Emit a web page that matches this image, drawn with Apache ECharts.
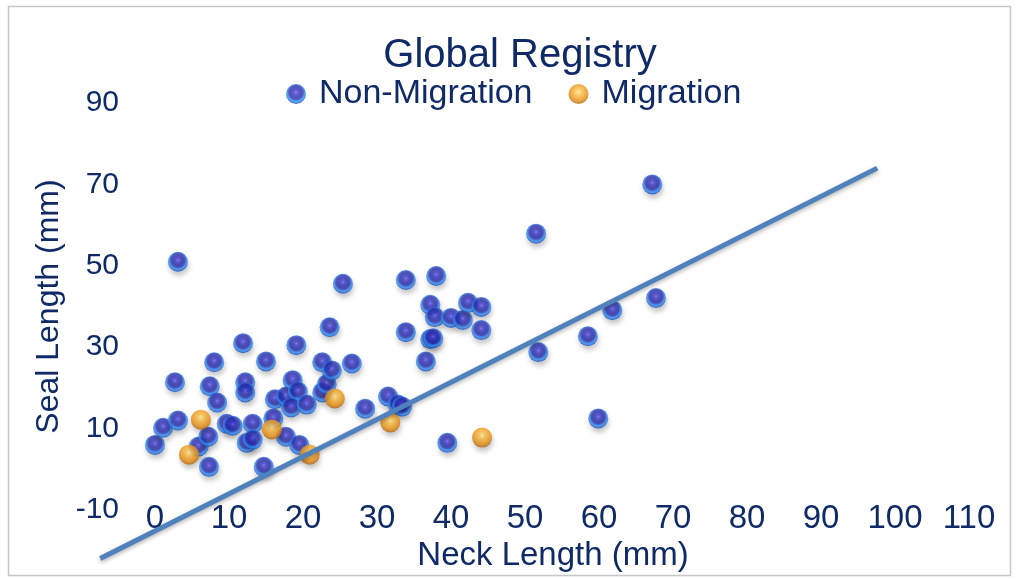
<!DOCTYPE html>
<html>
<head>
<meta charset="utf-8">
<title>Global Registry</title>
<script src="https://cdn.jsdelivr.net/npm/echarts@6/dist/echarts.min.js"></script>
<style>
  html, body { margin: 0; padding: 0; background: #ffffff; }
  #chart { width: 1018px; height: 579px; }
</style>
</head>
<body>
<div id="chart"></div>
<script>
// Neck vs seal length (mm) for each registry entry
const nonMigrationNeck = [
  0.0, 1.1, 3.1, 2.7, 3.1, 5.9, 7.2, 7.4, 8.0, 8.4, 7.3, 9.7, 10.5, 11.9, 12.2, 12.2,
  12.4, 13.2, 13.2, 15.0, 14.7, 16.2, 16.0, 17.7, 17.7, 19.1, 18.6, 19.3, 18.4, 19.5,
  20.5, 22.6, 22.6, 23.2, 23.6, 23.9, 25.4, 26.6, 28.4, 31.5, 32.8, 33.4, 33.9, 33.9,
  36.6, 37.2, 37.8, 37.2, 37.6, 38.0, 39.5, 40.0, 41.6, 42.3, 44.1, 44.1, 51.5, 51.8,
  58.5, 59.9, 61.8, 67.2, 67.7
];
const nonMigrationSeal = [
  6.0, 10.2, 51.0, 21.4, 12.0, 5.6, 8.0, 20.4, 26.3, 16.4, 0.6, 11.2, 10.7, 31.0, 21.4, 18.9,
  6.5, 11.2, 7.3, 26.5, 0.6, 17.2, 12.5, 17.9, 8.0, 30.5, 21.9, 19.1, 15.2, 6.0,
  15.9, 26.3, 18.9, 20.9, 34.9, 24.3, 45.6, 26.0, 14.9, 17.9, 15.9, 15.4, 46.5, 33.7,
  26.5, 40.4, 37.4, 32.0, 32.2, 47.5, 6.5, 37.2, 36.7, 40.9, 39.9, 34.2, 57.9, 28.8,
  32.7, 12.5, 39.1, 70.0, 42.1
];
const migrationNeck = [6.2, 4.6, 15.8, 20.9, 24.3, 31.8, 44.2];
const migrationSeal = [12.2, 3.6, 9.8, 3.6, 17.4, 11.5, 7.8];

// Linear trendline end points (forecast both directions)
const trendNeck = [-7.4, 97.6];
const trendSeal = [-21.9, 74.0];

// The x range starts one step early so the backward forecast stays on the scale;
// only the labels from 0 upward are shown.
const xTicks = { min: -10, max: 110, step: 10, firstLabel: 0 };
const yTicks = { min: -10, max: 90, step: 10, labelEvery: 20 };

const pairs = (xs, ys) => xs.map((x, i) => [x, ys[i]]);

const navy = '#0f2a66';
const sansFont = "'Liberation Sans', Arial, sans-serif";

const blueSphere = {
  type: 'radial', x: 0.5, y: 0.42, r: 0.55,
  colorStops: [
    { offset: 0, color: '#6a66f4' },
    { offset: 0.18, color: '#3c3cd0' },
    { offset: 0.45, color: '#2628a8' },
    { offset: 0.63, color: '#2630b0' },
    { offset: 0.75, color: '#2a74e4' },
    { offset: 0.87, color: '#368aF2' },
    { offset: 1, color: '#1a58c4' }
  ]
};
const orangeSphere = {
  type: 'radial', x: 0.5, y: 0.4, r: 0.58,
  colorStops: [
    { offset: 0, color: '#ffe9a0' },
    { offset: 0.25, color: '#fcc24a' },
    { offset: 0.55, color: '#f3a224' },
    { offset: 0.8, color: '#e08a14' },
    { offset: 1, color: '#b4650a' }
  ]
};

const chart = echarts.init(document.getElementById('chart'), null, { renderer: 'canvas' });

chart.setOption({
  animation: false,
  backgroundColor: '#ffffff',
  graphic: [{
    type: 'rect',
    shape: { x: 8.5, y: 6.5, width: 1002, height: 569 },
    style: { fill: 'none', stroke: '#c6c6c6', lineWidth: 1.5 },
    silent: true
  }],
  title: {
    text: 'Global Registry',
    left: 515,
    textAlign: 'center',
    top: 31,
    textStyle: { fontFamily: sansFont, fontSize: 40, fontWeight: 'normal', color: navy }
  },
  legend: {
    top: 72,
    left: 281,
    itemWidth: 36,
    itemHeight: 20,
    itemGap: 36,
    icon: 'circle',
    textStyle: { fontFamily: sansFont, fontSize: 34, color: navy },
    data: ['Non-Migration', 'Migration']
  },
  grid: { left: 81, right: 49, top: 103, bottom: 69 },
  xAxis: {
    type: 'value',
    min: xTicks.min,
    max: xTicks.max,
    interval: xTicks.step,
    name: 'Neck Length (mm)',
    nameLocation: 'middle',
    nameGap: 25,
    nameTextStyle: { fontFamily: sansFont, fontSize: 33, color: navy, padding: [0, 0, 0, 56] },
    axisLine: { show: false },
    axisTick: { show: false },
    splitLine: { show: false },
    axisLabel: {
      fontFamily: sansFont, fontSize: 33, color: navy, margin: -8,
      formatter: v => (v >= xTicks.firstLabel ? String(v) : '')
    }
  },
  yAxis: {
    type: 'value',
    min: yTicks.min,
    max: yTicks.max,
    interval: yTicks.step,
    name: 'Seal Length (mm)',
    nameLocation: 'middle',
    nameGap: 13,
    nameTextStyle: { fontFamily: sansFont, fontSize: 32, color: navy },
    axisLine: { show: false },
    axisTick: { show: false },
    splitLine: { show: false },
    axisLabel: {
      fontFamily: sansFont, fontSize: 30, color: navy, margin: -38,
      formatter: v => ((v - yTicks.min) % yTicks.labelEvery === 0 ? String(v) : '')
    }
  },
  series: [
    {
      name: 'Non-Migration',
      type: 'scatter',
      symbolSize: 20,
      z: 2,
      itemStyle: {
        color: blueSphere,
        shadowColor: 'rgba(0,0,0,0.28)', shadowBlur: 5, shadowOffsetX: 1, shadowOffsetY: 4
      },
      data: pairs(nonMigrationNeck, nonMigrationSeal)
    },
    {
      name: 'Migration',
      type: 'scatter',
      symbolSize: 20,
      z: 3,
      itemStyle: {
        color: orangeSphere,
        shadowColor: 'rgba(0,0,0,0.28)', shadowBlur: 5, shadowOffsetX: 1, shadowOffsetY: 4
      },
      data: pairs(migrationNeck, migrationSeal)
    },
    {
      name: 'Trend',
      type: 'line',
      z: 4,
      clip: false,
      symbol: 'none',
      silent: true,
      lineStyle: {
        color: '#4f81bd', width: 5,
        shadowColor: 'rgba(0,0,0,0.3)', shadowBlur: 4, shadowOffsetY: 2
      },
      data: pairs(trendNeck, trendSeal)
    }
  ]
});
</script>
</body>
</html>
